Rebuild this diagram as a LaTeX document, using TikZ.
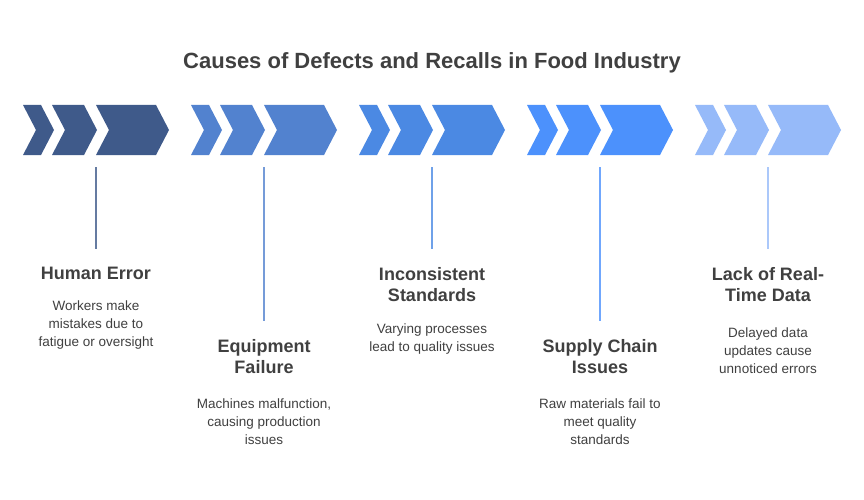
\documentclass[tikz,border=0pt]{standalone}
\usepackage{fontspec}
\setmainfont{Liberation Sans}
\begin{document}
\begin{tikzpicture}[x=1pt,y=-1pt,
  head/.style={font=\bfseries\fontsize{18}{21}\selectfont,text=txt,align=center},
  body/.style={font=\fontsize{13.5}{18}\selectfont,text=txt,align=center},
  vline/.style={line width=1.2pt}]
\definecolor{txt}{HTML}{404040}
\definecolor{cA}{HTML}{3F5A8A}
\definecolor{cB}{HTML}{5282CF}
\definecolor{cC}{HTML}{4B89E3}
\definecolor{cD}{HTML}{4C91FC}
\definecolor{cE}{HTML}{96BAF9}
\useasboundingbox (0,0) rectangle (864,500);
\fill[white] (0,0) rectangle (864,500);
\node[font=\bfseries\fontsize{22}{26}\selectfont,text=txt] (title) at (432,63) {Causes of Defects and Recalls in Food Industry};
\newcommand\chev[3]{% x0 x1 colour
  \fill[#3] (#1,105) -- (#2-13,105) -- (#2,130) -- (#2-13,155) -- (#1,155) -- (#1+13,130) -- cycle;}
\newcommand\grp[2]{%
  \chev{#1}{#1+31}{#2}\chev{#1+29}{#1+74}{#2}\chev{#1+73}{#1+146}{#2}}
\grp{23}{cA}\grp{191}{cB}\grp{359}{cC}\grp{527}{cD}\grp{695}{cE}
\coordinate (a1) at (96,167); \coordinate (a2) at (96,249);
\coordinate (b1) at (264,167); \coordinate (b2) at (264,321);
\coordinate (c1) at (432,167); \coordinate (c2) at (432,249);
\coordinate (d1) at (600,167); \coordinate (d2) at (600,321);
\coordinate (e1) at (768,167); \coordinate (e2) at (768,249);
\draw[vline,cA!80] (a1)--(a2);
\draw[vline,cB!80] (b1)--(b2);
\draw[vline,cC!80] (c1)--(c2);
\draw[vline,cD!80] (d1)--(d2);
\draw[vline,cE!80] (e1)--(e2);
\node[head] (h1) at (96,273) {Human Error};
\node[body] (t1) at (96,325) {Workers make\\mistakes due to\\fatigue or oversight};
\node[head] (h2) at (264,357) {Equipment\\Failure};
\node[body] (t2) at (264,422) {Machines malfunction,\\causing production\\issues};
\node[head] (h3) at (432,285) {Inconsistent\\Standards};
\node[body] (t3) at (432,339) {Varying processes\\lead to quality issues};
\node[head] (h4) at (600,357) {Supply Chain\\Issues};
\node[body] (t4) at (600,422) {Raw materials fail to\\meet quality\\standards};
\node[head] (h5) at (768,285) {Lack of Real-\\Time Data};
\node[body] (t5) at (768,351) {Delayed data\\updates cause\\unnoticed errors};
\end{tikzpicture}
\end{document}
